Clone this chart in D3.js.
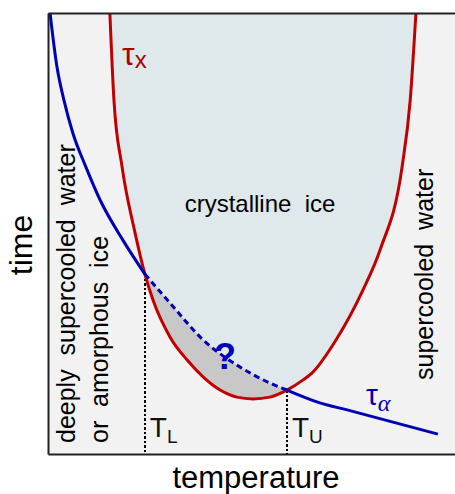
<!DOCTYPE html>
<html>
<head>
<meta charset="utf-8">
<script src="https://cdn.jsdelivr.net/npm/d3@7"></script>
<style>
  body { margin: 0; background: #fff; }
  svg text { font-family: "Liberation Sans", Arial, sans-serif; }
</style>
</head>
<body>
<svg width="455" height="494"></svg>
<script>
// schematic: temperature 0..100, log time 0..100 (arbitrary units)
const tauXTemp = [15.2, 16.2, 18.2, 21.4, 23.8, 25.8, 30.0, 34.2, 38.1, 42.3, 46.4, 50.4, 54.5, 58.7, 62.7, 64.9, 70.8, 77.4, 81.6, 87.0, 89.0, 90.4];
const tauXTime = [100, 80.3, 65.1, 50.1, 40.8, 34.9, 26.5, 21.3, 17.5, 14.5, 12.9, 12.5, 12.9, 14.5, 16.8, 18.4, 25.9, 37.2, 46.3, 65.1, 80.3, 100];

const tauATemp = [0.5, 2.2, 3.9, 6.1, 9.3, 12.8, 18.4, 23.8, 30.0, 38.1, 47.2, 54.5, 58.7, 66.8, 73.5, 95.8];
const tauATime = [100, 87.8, 80.3, 72.8, 65.1, 57.6, 48.5, 40.8, 34.2, 25.9, 19.7, 16.1, 14.5, 11.6, 10.0, 4.5];

const TL = 23.8, TU = 58.7;

const svg = d3.select('svg');
const x = d3.scaleLinear().domain([0, 100]).range([48, 455]);
const y = d3.scaleLinear().domain([0, 100]).range([454, 13]);

const tauX = tauXTemp.map((t, i) => ({ t: t, v: tauXTime[i] }));
const tauA = tauATemp.map((t, i) => ({ t: t, v: tauATime[i] }));

const line = d3.line()
    .x(d => x(d.t))
    .y(d => y(d.v))
    .curve(d3.curveMonotoneX);

const defs = svg.append('defs');
defs.append('clipPath').attr('id', 'plot')
  .append('rect')
    .attr('x', x(0)).attr('y', y(100))
    .attr('width', x(100) - x(0)).attr('height', y(0) - y(100));
defs.append('clipPath').attr('id', 'ice')
  .append('path')
    .attr('d', line(tauX) + 'Z');

// background
svg.append('rect')
    .attr('x', x(0)).attr('y', y(100))
    .attr('width', x(100) - x(0)).attr('height', y(0) - y(100))
    .attr('fill', '#f2f2f2');

const g = svg.append('g').attr('clip-path', 'url(#plot)');

// crystalline region
g.append('path')
    .attr('d', line(tauX) + 'Z')
    .attr('fill', '#dfe8ea');

const low = tauA.filter(d => d.t <= TL);
const mid = tauA.filter(d => d.t >= TL && d.t <= TU);
const high = tauA.filter(d => d.t >= TU);

// grey region between the curves
g.append('path')
    .attr('clip-path', 'url(#ice)')
    .attr('d', d3.area()
        .x(d => x(d.t))
        .y0(y(0))
        .y1(d => y(d.v))
        .curve(d3.curveMonotoneX)(mid))
    .attr('fill', '#c8c8c8');

// TL / TU markers
const marks = [TL, TU];
g.selectAll('.mark').data(marks)
  .enter().append('line')
    .attr('class', 'mark')
    .attr('x1', d => Math.round(x(d))).attr('x2', d => Math.round(x(d)))
    .attr('y1', d => y(tauA.find(p => p.t === d).v))
    .attr('y2', y(0))
    .attr('stroke', '#000')
    .attr('stroke-width', 2)
    .attr('stroke-dasharray', '2.5,2')
    .attr('shape-rendering', 'crispEdges');

g.append('path')
    .attr('d', line(tauX))
    .attr('fill', 'none')
    .attr('stroke', '#c00000')
    .attr('stroke-width', 3);

g.append('path')
    .attr('d', line(low))
    .attr('fill', 'none')
    .attr('stroke', '#0000b4')
    .attr('stroke-width', 3);

g.append('path')
    .attr('d', line(mid))
    .attr('fill', 'none')
    .attr('stroke', '#0000b4')
    .attr('stroke-width', 3)
    .attr('stroke-dasharray', '6,4');

g.append('path')
    .attr('d', line(high))
    .attr('fill', 'none')
    .attr('stroke', '#0000b4')
    .attr('stroke-width', 3);

// frame
svg.append('g')
    .attr('transform', `translate(${x(0)},0)`)
    .call(d3.axisLeft(y).tickValues([]).tickSizeOuter(0));
svg.append('g')
    .attr('transform', `translate(0,${y(0)})`)
    .call(d3.axisBottom(x).tickValues([]).tickSizeOuter(0));
svg.append('g')
    .attr('transform', `translate(0,${y(100)})`)
    .call(d3.axisTop(x).tickValues([]).tickSizeOuter(0));
svg.selectAll('.domain').attr('stroke', '#222').attr('stroke-width', 2);

// labels
svg.append('text')
    .attr('transform', 'translate(32,245) rotate(-90)')
    .attr('text-anchor', 'middle')
    .attr('font-size', 32)
    .text('time');

svg.append('text')
    .attr('x', 256).attr('y', 488)
    .attr('text-anchor', 'middle')
    .attr('font-size', 31)
    .text('temperature');

svg.append('text')
    .attr('x', 260).attr('y', 212)
    .attr('text-anchor', 'middle')
    .attr('font-size', 24)
    .style('white-space', 'pre')
    .text('crystalline  ice');

const sideLabels = [
  { text: 'deeply  supercooled  water', x: 75, y: 443 },
  { text: 'or  amorphous  ice', x: 108, y: 443 },
  { text: 'supercooled  water', x: 433, y: 380 }
];
svg.selectAll('.side').data(sideLabels)
  .enter().append('text')
    .attr('class', 'side')
    .attr('transform', d => `translate(${d.x},${d.y}) rotate(-90)`)
    .attr('font-size', 25)
    .style('white-space', 'pre')
    .text(d => d.text);

const tx = svg.append('text')
    .attr('x', 122).attr('y', 65)
    .attr('fill', '#b00000')
    .attr('font-size', 32);
tx.append('tspan').text('τ');
tx.append('tspan').attr('dy', 3).attr('font-size', 24).text('x');

const ta = svg.append('text')
    .attr('x', 366).attr('y', 405)
    .attr('fill', '#0000b4')
    .attr('font-size', 30);
ta.append('tspan').text('τ');
ta.append('tspan').attr('dy', 6).attr('font-size', 24)
    .style('font-family', '"Liberation Serif", serif')
    .style('font-style', 'italic')
    .text('α');

const tLabels = [
  { t: TL, sub: 'L' },
  { t: TU, sub: 'U' }
];
tLabels.forEach(d => {
  const el = svg.append('text')
      .attr('x', x(d.t) + 5).attr('y', 437)
      .attr('font-size', 28)
      .attr('fill', '#111');
  el.append('tspan').text('T');
  el.append('tspan').attr('dy', 6).attr('font-size', 19).text(d.sub);
});

svg.append('text')
    .attr('x', 225).attr('y', 369)
    .attr('text-anchor', 'middle')
    .attr('font-size', 36)
    .attr('font-weight', 'bold')
    .attr('fill', '#0000b4')
    .text('?');
</script>
</body>
</html>
